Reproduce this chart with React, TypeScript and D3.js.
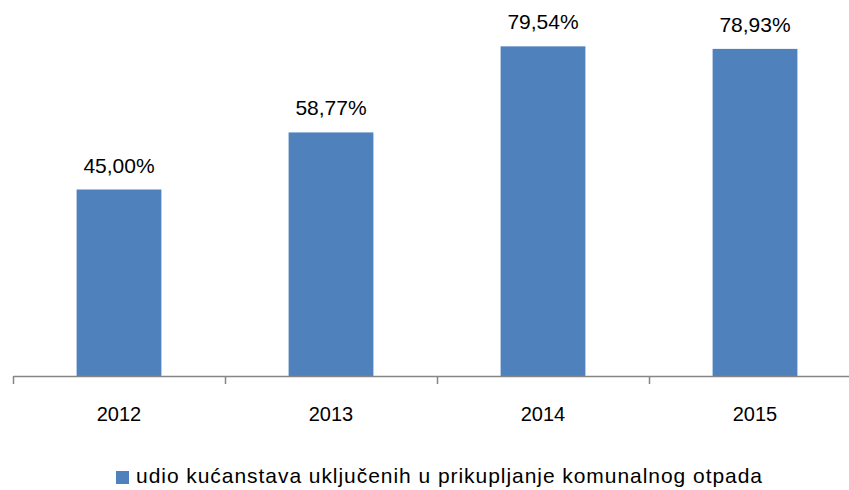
import React, { useRef, useEffect } from "react";
import * as d3 from "d3";

const years = ["2012", "2013", "2014", "2015"];
const shares = [45.0, 58.77, 79.54, 78.93];
const seriesName = "udio kućanstava uključenih u prikupljanje komunalnog otpada";

const W = 849;
const H = 490;
const FONT = "'Liberation Sans', Arial, sans-serif";

const App = () => {
  const ref = useRef<SVGSVGElement>(null);

  useEffect(() => {
    const svg = d3.select(ref.current);
    svg.selectAll("*").remove();

    const baseY = 376;
    const x = d3
      .scaleBand()
      .domain(years)
      .range([13, 861])
      .paddingInner(0.6)
      .paddingOuter(0.3);
    // band boundaries for the tick marks
    const xEdge = d3.scaleLinear().domain([0, years.length]).range([13, 861]);
    const y = d3.scaleLinear().domain([0, 90]).range([baseY, 3]);

    svg
      .selectAll("rect.bar")
      .data(shares)
      .join("rect")
      .attr("class", "bar")
      .attr("x", (d, i) => x(years[i]))
      .attr("y", (d) => y(d))
      .attr("width", x.bandwidth())
      .attr("height", (d) => baseY - y(d))
      .attr("fill", "#4F81BD");

    svg
      .selectAll("text.val")
      .data(shares)
      .join("text")
      .attr("class", "val")
      .attr("x", (d, i) => x(years[i]) + x.bandwidth() / 2)
      .attr("y", (d) => y(d) - 17)
      .attr("text-anchor", "middle")
      .attr("font-family", FONT)
      .attr("font-size", 21)
      .attr("fill", "#000")
      .text((d) => d.toFixed(2).replace(".", ",") + "%");

    const axis = d3
      .axisBottom(xEdge)
      .tickValues(d3.range(years.length + 1))
      .tickFormat(() => "")
      .tickSize(8)
      .tickSizeOuter(0);
    const g = svg.append("g").attr("transform", `translate(0,${baseY})`).call(axis);
    g.selectAll("path, line").attr("stroke", "#868686").attr("stroke-width", 1.5);

    svg
      .selectAll("text.cat")
      .data(years)
      .join("text")
      .attr("class", "cat")
      .attr("x", (d) => x(d) + x.bandwidth() / 2)
      .attr("y", 421)
      .attr("text-anchor", "middle")
      .attr("font-family", FONT)
      .attr("font-size", 20)
      .attr("fill", "#000")
      .text((d) => d);

    // legend
    const lg = svg.append("g").attr("transform", "translate(116,471)");
    lg.append("rect").attr("width", 13).attr("height", 13).attr("fill", "#4F81BD");
    lg.append("text")
      .attr("x", 20)
      .attr("y", 12)
      .attr("font-family", FONT)
      .attr("font-size", 21)
      .attr("textLength", 626)
      .attr("lengthAdjust", "spacing")
      .attr("fill", "#000")
      .text(seriesName);
  }, []);

  return (
    <svg
      ref={ref}
      width={W}
      height={H}
      style={{ position: "absolute", left: 0, top: 0, background: "#fff" }}
    />
  );
};

export default App;
